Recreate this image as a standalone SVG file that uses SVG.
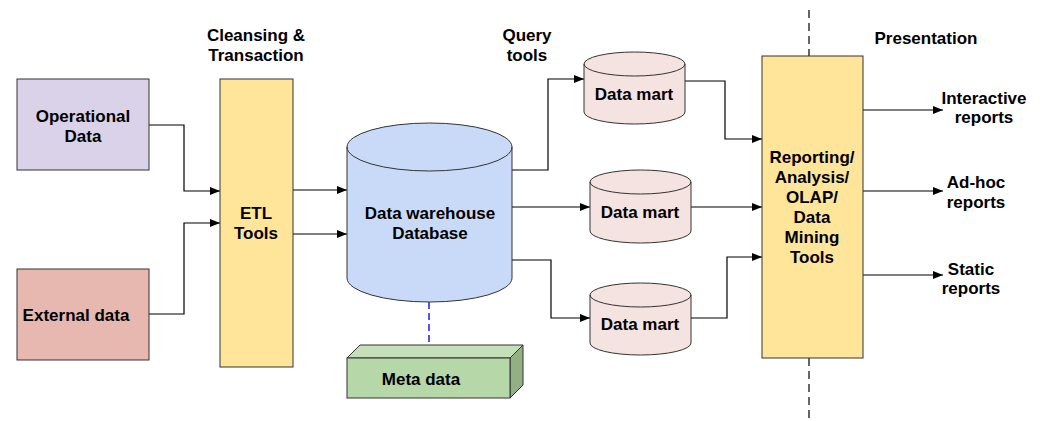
<svg xmlns="http://www.w3.org/2000/svg" width="1042" height="421" viewBox="0 0 1042 421">
<style>
text{font-family:"Liberation Sans",Arial,sans-serif;font-weight:bold;font-size:17px;fill:#000;text-anchor:middle}
.box{stroke:#333;stroke-width:1}
.conn{fill:none;stroke:#000;stroke-width:1.2}
</style>
<defs>
<marker id="arr" viewBox="0 0 10 8" refX="10" refY="4" markerWidth="10" markerHeight="8" markerUnits="userSpaceOnUse" orient="auto">
<path d="M0,0 L10,4 L0,8 Z" fill="#000"/>
</marker>
</defs>
<rect width="1042" height="421" fill="#fff"/>
<g id="divider"><line x1="809" y1="10" x2="809" y2="56" stroke="#000" stroke-width="1.2" stroke-dasharray="8,5"/><line x1="809" y1="358" x2="809" y2="421" stroke="#000" stroke-width="1.2" stroke-dasharray="8,5"/></g>
<g id="labels">
<text x="256" y="41">Cleansing &amp;</text><text x="256" y="61">Transaction</text>
<text x="527" y="41">Query</text><text x="527" y="61">tools</text>
<text x="926" y="44">Presentation</text>
<text x="984" y="104">Interactive</text><text x="984" y="123">reports</text>
<text x="976" y="188">Ad-hoc</text><text x="976" y="208">reports</text>
<text x="971" y="275">Static</text><text x="971" y="294">reports</text>
</g>
<g id="connectors">
<polyline class="conn" points="149,125 184,125 184,191 220,191" marker-end="url(#arr)"/>
<polyline class="conn" points="149,314 184,314 184,223 220,223" marker-end="url(#arr)"/>
<polyline class="conn" points="293,190 347,190" marker-end="url(#arr)"/>
<polyline class="conn" points="293,234 347,234" marker-end="url(#arr)"/>
<polyline class="conn" points="512,170 548,170 548,79 584,79" marker-end="url(#arr)"/>
<polyline class="conn" points="512,207 590,207" marker-end="url(#arr)"/>
<polyline class="conn" points="512,260 551,260 551,318 590,318" marker-end="url(#arr)"/>
<polyline class="conn" points="685,81 725,81 725,139 762,139" marker-end="url(#arr)"/>
<polyline class="conn" points="691,207 762,207" marker-end="url(#arr)"/>
<polyline class="conn" points="691,318 727,318 727,257 762,257" marker-end="url(#arr)"/>
<polyline class="conn" points="863,110 943,110" marker-end="url(#arr)"/>
<polyline class="conn" points="863,191 943,191" marker-end="url(#arr)"/>
<polyline class="conn" points="863,275 943,275" marker-end="url(#arr)"/>
<line x1="429" y1="302" x2="429" y2="358" stroke="#1a1aff" stroke-width="1.5" stroke-dasharray="7,4"/>
</g>
<g id="operational"><rect class="box" x="17" y="79" width="132" height="91" fill="#d9d2e9"/><text x="83" y="122">Operational</text><text x="83" y="142">Data</text></g>
<g id="external"><rect class="box" x="17" y="269" width="132" height="91" fill="#e6b8af"/><text x="76" y="321">External data</text></g>
<g id="etl"><rect class="box" x="220" y="79" width="73" height="288" fill="#ffe599"/><text x="256" y="219">ETL</text><text x="256" y="239">Tools</text></g>
<g id="dw"><path class="box" d="M347,147 A82.5,24 0 0 1 512,147 L512,278 A82.5,24 0 0 1 347,278 Z" fill="#c9daf8"/><path class="box" d="M347,147 A82.5,24 0 0 0 512,147" fill="none"/><text x="430" y="219">Data warehouse</text><text x="430" y="239">Database</text></g>
<g id="meta"><polygon class="box" points="347,358 360,345 523,345 510,358" fill="#c5e0b8"/><polygon class="box" points="510,358 523,345 523,385 510,398" fill="#93b085"/><rect class="box" x="347" y="358" width="163" height="40" fill="#b6d7a8"/><text x="421" y="385">Meta data</text></g>
<g id="mart1"><path class="box" d="M584,64 A50.5,12 0 0 1 685,64 L685,112 A50.5,12 0 0 1 584,112 Z" fill="#f4e3e1"/><path class="box" d="M584,64 A50.5,12 0 0 0 685,64" fill="none"/><text x="634" y="100">Data mart</text></g>
<g id="mart2"><path class="box" d="M590,182 A50.5,12 0 0 1 691,182 L691,231 A50.5,12 0 0 1 590,231 Z" fill="#f4e3e1"/><path class="box" d="M590,182 A50.5,12 0 0 0 691,182" fill="none"/><text x="640" y="218">Data mart</text></g>
<g id="mart3"><path class="box" d="M590,295 A50.5,12 0 0 1 691,295 L691,343 A50.5,12 0 0 1 590,343 Z" fill="#f4e3e1"/><path class="box" d="M590,295 A50.5,12 0 0 0 691,295" fill="none"/><text x="640" y="330">Data mart</text></g>
<g id="reporting"><rect class="box" x="762" y="56" width="101" height="302" fill="#ffe599"/><text x="812" y="163">Reporting/</text><text x="812" y="183">Analysis/</text><text x="812" y="203">OLAP/</text><text x="812" y="223">Data</text><text x="812" y="243">Mining</text><text x="812" y="263">Tools</text></g>
</svg>
